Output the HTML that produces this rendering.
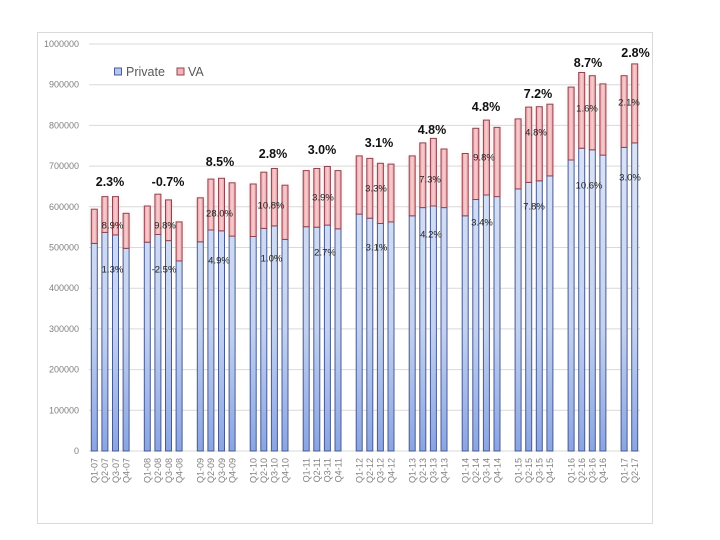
<!DOCTYPE html>
<html><head><meta charset="utf-8"><style>
html,body{margin:0;padding:0;background:#fff;}
svg{display:block;}
text{font-family:"Liberation Sans",sans-serif;}
</style></head><body>
<svg width="720" height="540" viewBox="0 0 720 540" xmlns="http://www.w3.org/2000/svg">
<defs>
<linearGradient id="gp" x1="0" y1="140" x2="0" y2="451" gradientUnits="userSpaceOnUse">
<stop offset="0" stop-color="#dbe4f7"/><stop offset="0.6" stop-color="#c3d2f2"/><stop offset="1" stop-color="#8aa5e4"/>
</linearGradient>
<linearGradient id="gv" x1="0" y1="0" x2="1" y2="0">
<stop offset="0" stop-color="#ee9ea3"/><stop offset="0.5" stop-color="#f8cfd1"/><stop offset="1" stop-color="#ee9ea3"/>
</linearGradient>
<filter id="bl" x="-1" y="-0.2" width="3" height="1.4"><feGaussianBlur stdDeviation="2"/></filter>
</defs>
<rect x="37.5" y="32.5" width="615" height="491" fill="#fff" stroke="#d9d9d9" stroke-width="1"/>
<g stroke="#d9d9d9" stroke-width="1">
<line x1="89" y1="44" x2="640" y2="44"/>
<line x1="89" y1="84.7" x2="640" y2="84.7"/>
<line x1="89" y1="125.4" x2="640" y2="125.4"/>
<line x1="89" y1="166.1" x2="640" y2="166.1"/>
<line x1="89" y1="206.8" x2="640" y2="206.8"/>
<line x1="89" y1="247.5" x2="640" y2="247.5"/>
<line x1="89" y1="288.2" x2="640" y2="288.2"/>
<line x1="89" y1="328.9" x2="640" y2="328.9"/>
<line x1="89" y1="369.6" x2="640" y2="369.6"/>
<line x1="89" y1="410.3" x2="640" y2="410.3"/>
<line x1="89" y1="451" x2="640" y2="451"/>
</g>
<g font-size="9" fill="#808080" text-anchor="end" dominant-baseline="central">
<text x="79" y="44">1000000</text>
<text x="79" y="84.7">900000</text>
<text x="79" y="125.4">800000</text>
<text x="79" y="166.1">700000</text>
<text x="79" y="206.8">600000</text>
<text x="79" y="247.5">500000</text>
<text x="79" y="288.2">400000</text>
<text x="79" y="328.9">300000</text>
<text x="79" y="369.6">200000</text>
<text x="79" y="410.3">100000</text>
<text x="79" y="451">0</text>
</g>
<!-- glow behind VA -->
<g fill="#f4b0b4" opacity="0.45" filter="url(#bl)">
<rect x="91.3" y="209.2" width="6" height="34.2"/><rect x="101.9" y="196.6" width="6" height="35.8"/><rect x="112.5" y="196.6" width="6" height="38.3"/><rect x="123.1" y="213.3" width="6" height="35"/>
<rect x="144.3" y="206" width="6" height="36.2"/><rect x="154.9" y="194.2" width="6" height="40.3"/><rect x="165.5" y="199.9" width="6" height="40.7"/><rect x="176.1" y="221.9" width="6" height="39"/>
<rect x="197.3" y="197.8" width="6" height="44"/><rect x="207.9" y="179.1" width="6" height="50.9"/><rect x="218.5" y="178.3" width="6" height="52.5"/><rect x="229.1" y="182.8" width="6" height="53.3"/>
<rect x="250.2" y="184" width="6" height="52.5"/><rect x="260.8" y="172.2" width="6" height="56.2"/><rect x="271.4" y="168.5" width="6" height="57.4"/><rect x="282" y="185.2" width="6" height="54.2"/>
<rect x="303.2" y="170.6" width="6" height="56.1"/><rect x="313.8" y="168.5" width="6" height="58.7"/><rect x="324.4" y="166.5" width="6" height="58.6"/><rect x="335" y="170.6" width="6" height="58.2"/>
<rect x="356.2" y="155.9" width="6" height="58.2"/><rect x="366.8" y="158.4" width="6" height="59.8"/><rect x="377.4" y="163.3" width="6" height="60.2"/><rect x="388" y="164.1" width="6" height="57.8"/>
<rect x="409.2" y="155.9" width="6" height="59.9"/><rect x="419.8" y="142.9" width="6" height="64.7"/><rect x="430.4" y="138.4" width="6" height="67.6"/><rect x="441" y="149" width="6" height="58.6"/>
<rect x="462.2" y="153.5" width="6" height="62.3"/><rect x="472.8" y="128.3" width="6" height="71.2"/><rect x="483.4" y="120.1" width="6" height="74.9"/><rect x="494" y="127.4" width="6" height="69.2"/>
<rect x="515.1" y="118.9" width="6" height="70"/><rect x="525.7" y="107.1" width="6" height="75.3"/><rect x="536.3" y="106.7" width="6" height="74.1"/><rect x="546.9" y="104.2" width="6" height="71.7"/>
<rect x="568.1" y="87.1" width="6" height="72.9"/><rect x="578.7" y="72.5" width="6" height="75.7"/><rect x="589.3" y="75.7" width="6" height="74.1"/><rect x="599.9" y="83.9" width="6" height="71.2"/>
<rect x="621.1" y="75.7" width="6" height="71.7"/><rect x="631.7" y="63.9" width="6" height="79"/>
</g>
<!-- Private bars -->
<g fill="url(#gp)" stroke="#485a90" stroke-width="1">
<rect x="91.3" y="243.4" width="6" height="207.6"/><rect x="101.9" y="232.4" width="6" height="218.6"/><rect x="112.5" y="234.9" width="6" height="216.1"/><rect x="123.1" y="248.3" width="6" height="202.7"/>
<rect x="144.3" y="242.2" width="6" height="208.8"/><rect x="154.9" y="234.5" width="6" height="216.5"/><rect x="165.5" y="240.6" width="6" height="210.4"/><rect x="176.1" y="260.9" width="6" height="190.1"/>
<rect x="197.3" y="241.8" width="6" height="209.2"/><rect x="207.9" y="230" width="6" height="221"/><rect x="218.5" y="230.8" width="6" height="220.2"/><rect x="229.1" y="236.1" width="6" height="214.9"/>
<rect x="250.2" y="236.5" width="6" height="214.5"/><rect x="260.8" y="228.4" width="6" height="222.6"/><rect x="271.4" y="225.9" width="6" height="225.1"/><rect x="282" y="239.4" width="6" height="211.6"/>
<rect x="303.2" y="226.7" width="6" height="224.3"/><rect x="313.8" y="227.2" width="6" height="223.8"/><rect x="324.4" y="225.1" width="6" height="225.9"/><rect x="335" y="228.8" width="6" height="222.2"/>
<rect x="356.2" y="214.1" width="6" height="236.9"/><rect x="366.8" y="218.2" width="6" height="232.8"/><rect x="377.4" y="223.5" width="6" height="227.5"/><rect x="388" y="221.9" width="6" height="229.1"/>
<rect x="409.2" y="215.8" width="6" height="235.2"/><rect x="419.8" y="207.6" width="6" height="243.4"/><rect x="430.4" y="206" width="6" height="245"/><rect x="441" y="207.6" width="6" height="243.4"/>
<rect x="462.2" y="215.8" width="6" height="235.2"/><rect x="472.8" y="199.5" width="6" height="251.5"/><rect x="483.4" y="195" width="6" height="256"/><rect x="494" y="196.6" width="6" height="254.4"/>
<rect x="515.1" y="188.9" width="6" height="262.1"/><rect x="525.7" y="182.4" width="6" height="268.6"/><rect x="536.3" y="180.8" width="6" height="270.2"/><rect x="546.9" y="175.9" width="6" height="275.1"/>
<rect x="568.1" y="160" width="6" height="291"/><rect x="578.7" y="148.2" width="6" height="302.8"/><rect x="589.3" y="149.8" width="6" height="301.2"/><rect x="599.9" y="155.1" width="6" height="295.9"/>
<rect x="621.1" y="147.4" width="6" height="303.6"/><rect x="631.7" y="142.9" width="6" height="308.1"/>
</g>
<!-- VA bars -->
<g fill="url(#gv)" stroke="#8e4653" stroke-width="1">
<rect x="91.3" y="209.2" width="6" height="34.2"/><rect x="101.9" y="196.6" width="6" height="35.8"/><rect x="112.5" y="196.6" width="6" height="38.3"/><rect x="123.1" y="213.3" width="6" height="35"/>
<rect x="144.3" y="206" width="6" height="36.2"/><rect x="154.9" y="194.2" width="6" height="40.3"/><rect x="165.5" y="199.9" width="6" height="40.7"/><rect x="176.1" y="221.9" width="6" height="39"/>
<rect x="197.3" y="197.8" width="6" height="44"/><rect x="207.9" y="179.1" width="6" height="50.9"/><rect x="218.5" y="178.3" width="6" height="52.5"/><rect x="229.1" y="182.8" width="6" height="53.3"/>
<rect x="250.2" y="184" width="6" height="52.5"/><rect x="260.8" y="172.2" width="6" height="56.2"/><rect x="271.4" y="168.5" width="6" height="57.4"/><rect x="282" y="185.2" width="6" height="54.2"/>
<rect x="303.2" y="170.6" width="6" height="56.1"/><rect x="313.8" y="168.5" width="6" height="58.7"/><rect x="324.4" y="166.5" width="6" height="58.6"/><rect x="335" y="170.6" width="6" height="58.2"/>
<rect x="356.2" y="155.9" width="6" height="58.2"/><rect x="366.8" y="158.4" width="6" height="59.8"/><rect x="377.4" y="163.3" width="6" height="60.2"/><rect x="388" y="164.1" width="6" height="57.8"/>
<rect x="409.2" y="155.9" width="6" height="59.9"/><rect x="419.8" y="142.9" width="6" height="64.7"/><rect x="430.4" y="138.4" width="6" height="67.6"/><rect x="441" y="149" width="6" height="58.6"/>
<rect x="462.2" y="153.5" width="6" height="62.3"/><rect x="472.8" y="128.3" width="6" height="71.2"/><rect x="483.4" y="120.1" width="6" height="74.9"/><rect x="494" y="127.4" width="6" height="69.2"/>
<rect x="515.1" y="118.9" width="6" height="70"/><rect x="525.7" y="107.1" width="6" height="75.3"/><rect x="536.3" y="106.7" width="6" height="74.1"/><rect x="546.9" y="104.2" width="6" height="71.7"/>
<rect x="568.1" y="87.1" width="6" height="72.9"/><rect x="578.7" y="72.5" width="6" height="75.7"/><rect x="589.3" y="75.7" width="6" height="74.1"/><rect x="599.9" y="83.9" width="6" height="71.2"/>
<rect x="621.1" y="75.7" width="6" height="71.7"/><rect x="631.7" y="63.9" width="6" height="79"/>
</g>
<!-- legend -->
<rect x="114.5" y="68" width="7" height="7" fill="#b3c6ef" stroke="#4a5c92" stroke-width="1"/>
<text x="126" y="72" font-size="12.5" fill="#595959" dominant-baseline="central">Private</text>
<rect x="177" y="68" width="7" height="7" fill="#f4b4b7" stroke="#8e4653" stroke-width="1"/>
<text x="188" y="72" font-size="12.5" fill="#595959" dominant-baseline="central">VA</text>
<!-- bold growth labels -->
<g font-size="12.5" font-weight="bold" fill="#111" text-anchor="middle" dominant-baseline="central">
<text x="110" y="182">2.3%</text>
<text x="168" y="182">-0.7%</text>
<text x="220" y="162">8.5%</text>
<text x="273" y="154">2.8%</text>
<text x="322" y="150">3.0%</text>
<text x="379" y="143">3.1%</text>
<text x="432" y="130">4.8%</text>
<text x="486" y="107">4.8%</text>
<text x="538" y="94">7.2%</text>
<text x="588" y="63">8.7%</text>
<text x="635.5" y="53">2.8%</text>
</g>
<!-- small labels -->
<g font-size="9.5" fill="#1f1f1f" text-anchor="middle" dominant-baseline="central">
<text x="112.5" y="226">8.9%</text>
<text x="165" y="226">9.8%</text>
<text x="219.5" y="214">28.0%</text>
<text x="271" y="206">10.8%</text>
<text x="323" y="198">3.9%</text>
<text x="376" y="189">3.3%</text>
<text x="430" y="180">7.3%</text>
<text x="484" y="158">9.8%</text>
<text x="536" y="133">4.8%</text>
<text x="587" y="109">1.6%</text>
<text x="629" y="103">2.1%</text>
<text x="112.5" y="270">1.3%</text>
<text x="164" y="270">-2.5%</text>
<text x="219" y="261">4.9%</text>
<text x="271.5" y="259">1.0%</text>
<text x="325" y="253">2.7%</text>
<text x="376.5" y="248">3.1%</text>
<text x="431" y="235">4.2%</text>
<text x="482" y="223">3.4%</text>
<text x="534" y="207">7.8%</text>
<text x="589" y="186">10.6%</text>
<text x="630" y="178">3.0%</text>
</g>
<!-- x labels -->
<g font-size="9" fill="#7f7f7f" text-anchor="end">
<text transform="translate(97.6,458) rotate(-90)">Q1-07</text>
<text transform="translate(108.2,458) rotate(-90)">Q2-07</text>
<text transform="translate(118.8,458) rotate(-90)">Q3-07</text>
<text transform="translate(129.4,458) rotate(-90)">Q4-07</text>
<text transform="translate(150.6,458) rotate(-90)">Q1-08</text>
<text transform="translate(161.2,458) rotate(-90)">Q2-08</text>
<text transform="translate(171.8,458) rotate(-90)">Q3-08</text>
<text transform="translate(182.4,458) rotate(-90)">Q4-08</text>
<text transform="translate(203.6,458) rotate(-90)">Q1-09</text>
<text transform="translate(214.2,458) rotate(-90)">Q2-09</text>
<text transform="translate(224.8,458) rotate(-90)">Q3-09</text>
<text transform="translate(235.4,458) rotate(-90)">Q4-09</text>
<text transform="translate(256.5,458) rotate(-90)">Q1-10</text>
<text transform="translate(267.1,458) rotate(-90)">Q2-10</text>
<text transform="translate(277.7,458) rotate(-90)">Q3-10</text>
<text transform="translate(288.3,458) rotate(-90)">Q4-10</text>
<text transform="translate(309.5,458) rotate(-90)">Q1-11</text>
<text transform="translate(320.1,458) rotate(-90)">Q2-11</text>
<text transform="translate(330.7,458) rotate(-90)">Q3-11</text>
<text transform="translate(341.3,458) rotate(-90)">Q4-11</text>
<text transform="translate(362.5,458) rotate(-90)">Q1-12</text>
<text transform="translate(373.1,458) rotate(-90)">Q2-12</text>
<text transform="translate(383.7,458) rotate(-90)">Q3-12</text>
<text transform="translate(394.3,458) rotate(-90)">Q4-12</text>
<text transform="translate(415.5,458) rotate(-90)">Q1-13</text>
<text transform="translate(426.1,458) rotate(-90)">Q2-13</text>
<text transform="translate(436.7,458) rotate(-90)">Q3-13</text>
<text transform="translate(447.3,458) rotate(-90)">Q4-13</text>
<text transform="translate(468.5,458) rotate(-90)">Q1-14</text>
<text transform="translate(479.1,458) rotate(-90)">Q2-14</text>
<text transform="translate(489.7,458) rotate(-90)">Q3-14</text>
<text transform="translate(500.3,458) rotate(-90)">Q4-14</text>
<text transform="translate(521.4,458) rotate(-90)">Q1-15</text>
<text transform="translate(532,458) rotate(-90)">Q2-15</text>
<text transform="translate(542.6,458) rotate(-90)">Q3-15</text>
<text transform="translate(553.2,458) rotate(-90)">Q4-15</text>
<text transform="translate(574.4,458) rotate(-90)">Q1-16</text>
<text transform="translate(585,458) rotate(-90)">Q2-16</text>
<text transform="translate(595.6,458) rotate(-90)">Q3-16</text>
<text transform="translate(606.2,458) rotate(-90)">Q4-16</text>
<text transform="translate(627.4,458) rotate(-90)">Q1-17</text>
<text transform="translate(638,458) rotate(-90)">Q2-17</text>
</g>
</svg>
</body></html>
